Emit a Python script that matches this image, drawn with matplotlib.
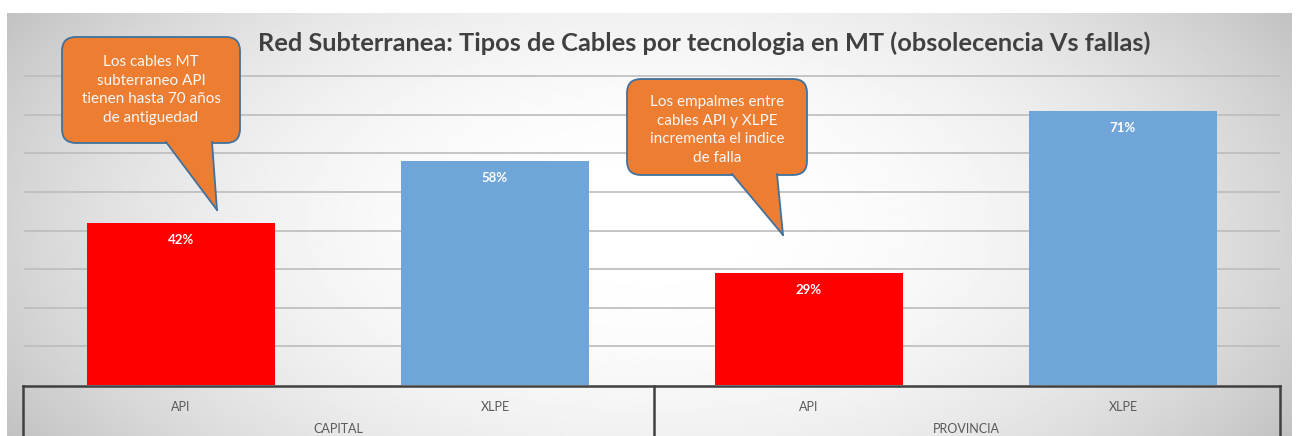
import numpy as np
import matplotlib.pyplot as plt
from matplotlib.patches import FancyBboxPatch, Polygon

# Datos del grafico
regiones = ["CAPITAL", "PROVINCIA"]
tecnologias = ["API", "XLPE", "API", "XLPE"]
porcentajes = [0.42, 0.58, 0.29, 0.71]
colores = ["#FF0000", "#6FA5D8", "#FF0000", "#6FA5D8"]
etiquetas = ["42%", "58%", "29%", "71%"]

titulo = "Red Subterranea: Tipos de Cables por tecnologia en MT (obsolecencia Vs fallas)"
nota_1 = "Los cables MT\nsubterraneo API\ntienen hasta 70 años\nde antiguedad"
nota_2 = "Los empalmes entre\ncables API y XLPE\nincrementa el indice\nde falla"

W, H = 1298, 436
fig = plt.figure(figsize=(W / 100, H / 100), dpi=100)
fig.patch.set_facecolor("white")

# Fondo con degradado radial (gris en los bordes, blanco en el centro)
bg = fig.add_axes([7 / W, 0, (1292 - 7) / W, (H - 13) / H])
gx = np.linspace(-1, 1, 600)
gy = np.linspace(-1, 1, 200)
X, Y = np.meshgrid(gx, gy)
r = np.sqrt(X ** 2 + (Y * 0.6) ** 2) / np.sqrt(1 + 0.36)
val = 1.0 - 0.24 * r ** 2.2
bg.imshow(val, cmap="gray", vmin=0, vmax=1, aspect="auto", extent=[0, 1, 0, 1])
bg.axis("off")

# Area de trazado en pixeles
x0, x1 = 24, 1280
y_base = 385
px_10 = 38.6
y_top = y_base - 9 * px_10
ax = fig.add_axes([x0 / W, (H - y_base) / H, (x1 - x0) / W, (y_base - y_top) / H])
ax.patch.set_alpha(0)

pos = np.arange(len(porcentajes))
bars = ax.bar(pos, porcentajes, width=0.6, color=colores, zorder=2)
ax.set_xlim(-0.5, len(porcentajes) - 0.5)
ax.set_ylim(0, 0.9)

for g in np.arange(0.1, 0.81, 0.1):
    ax.axhline(g, color="#bcbcbc", lw=1.2, zorder=1)

for b, txt in zip(bars, etiquetas):
    ax.annotate(txt, (b.get_x() + b.get_width() / 2, b.get_height()),
                xytext=(0, -12), textcoords="offset points", ha="center",
                va="center", color="white", fontsize=9.5, fontweight="bold",
                family="Lato", zorder=3)

for s in ax.spines.values():
    s.set_visible(False)
ax.set_xticks([])
ax.set_yticks([])

# Eje de categorias en dos niveles
ov = fig.add_axes([0, 0, 1, 1])
ov.set_xlim(0, W)
ov.set_ylim(H, 0)
ov.axis("off")
ov.plot([x0 - 1, x1], [y_base + 1, y_base + 1], color="#404040", lw=1.8)
mid = (x0 + x1) / 2 + 2
for xv in [x0 - 1, mid, x1]:
    ov.plot([xv, xv], [y_base + 1, H], color="#404040", lw=1.8)

ancho_cat = (x1 - x0) / len(tecnologias)
for i, t in enumerate(tecnologias):
    ov.text(x0 + ancho_cat * (i + 0.5), 407, t, ha="center", va="center",
            fontsize=9, color="#595959", family="Lato")
for i, reg in enumerate(regiones):
    ov.text(x0 + ancho_cat * (2 * i + 1), 429, reg, ha="center", va="center",
            fontsize=9, color="#595959", family="Lato")

ov.text(704, 43, titulo, ha="center", va="center", fontsize=18.3,
        fontweight="bold", color="#404040", family="Lato")


def globo(bx0, by0, bx1, by1, cola, texto, cx, cy):
    caja = FancyBboxPatch((bx0, by0), bx1 - bx0, by1 - by0,
                          boxstyle="round,pad=0,rounding_size=14",
                          fc="#ED7D31", ec="#41719C", lw=1.3, zorder=5)
    ov.add_patch(caja)
    # cola del globo, tapando el borde donde nace
    ov.add_patch(Polygon(cola, closed=True, fc="#ED7D31", ec="none", zorder=6))
    ov.plot([cola[0][0], cola[1][0]], [cola[0][1], cola[1][1]], color="#41719C", lw=1.3, zorder=7)
    ov.plot([cola[1][0], cola[2][0]], [cola[1][1], cola[2][1]], color="#41719C", lw=1.3, zorder=7)
    ov.text(cx, cy, texto, ha="center", va="center", color="#F7F7F7",
            fontsize=11, family="Lato", linespacing=1.4, zorder=8)


globo(62, 37, 240, 143, [(166, 142), (217, 210), (212, 142)], nota_1, 151, 90)
globo(627, 79, 807, 175, [(732, 174), (783, 235), (777, 174)], nota_2, 717, 130)

plt.savefig("out.png", dpi=100)
